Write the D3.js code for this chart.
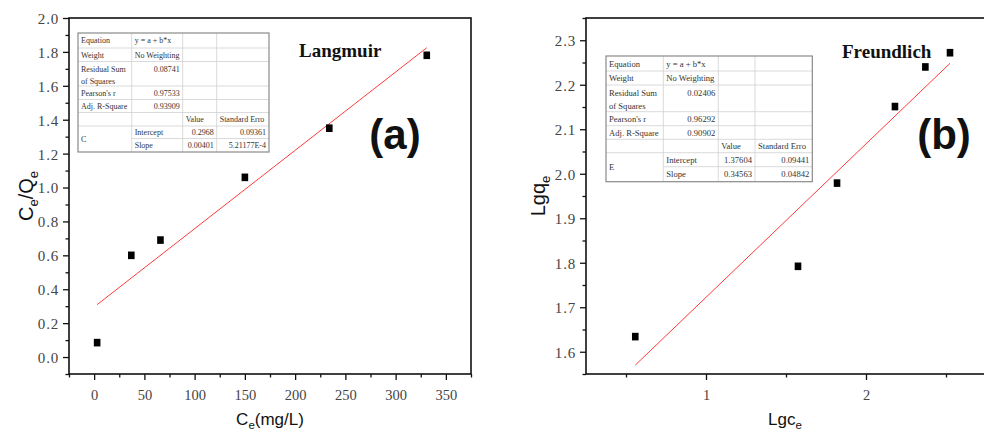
<!DOCTYPE html>
<html>
<head>
<meta charset="utf-8">
<script src="https://cdn.jsdelivr.net/npm/d3@7/dist/d3.min.js"></script>
<style>
  html, body { margin: 0; padding: 0; background: #fff; }
  svg { display: block; }
</style>
</head>
<body>
<svg id="chart" width="984" height="433"></svg>
<script>
// ---- Langmuir isotherm data: Ce (mg/L) vs Ce/Qe ----
const langmuirCe = [3, 37, 66, 150, 234, 331];
const langmuirCeQe = [0.085, 0.60, 0.69, 1.06, 1.35, 1.78];

// ---- Freundlich isotherm data: lg Ce vs lg qe ----
const freundlichLgCe = [0.558, 1.575, 1.819, 2.181, 2.371, 2.525];
const freundlichLgQe = [1.634, 1.792, 1.979, 2.151, 2.240, 2.272];

// ---- tick values ----
const xTicksA = [0, 50, 100, 150, 200, 250, 300, 350];
const xMinorA = [-25, 25, 75, 125, 175, 225, 275, 325, 375];
const yTicksA = [0.0, 0.2, 0.4, 0.6, 0.8, 1.0, 1.2, 1.4, 1.6, 1.8, 2.0];
const yMinorA = [-0.1, 0.1, 0.3, 0.5, 0.7, 0.9, 1.1, 1.3, 1.5, 1.7, 1.9];
const xTicksB = [1, 2];
const xMinorB = [0.5, 1.5, 2.5];
const yTicksB = [1.6, 1.7, 1.8, 1.9, 2.0, 2.1, 2.2, 2.3];
const yMinorB = [1.55, 1.65, 1.75, 1.85, 1.95, 2.05, 2.15, 2.25, 2.35];

// ---- fit result tables ----
const tableA = [
  ["Equation", "y = a + b*x", "", ""],
  ["Weight", "No Weighting", "", ""],
  ["Residual Sum\nof Squares", "0.08741", "", ""],
  ["Pearson's r", "0.97533", "", ""],
  ["Adj. R-Square", "0.93909", "", ""],
  ["", "", "Value", "Standard Erro"],
  ["C", "Intercept", "0.2968", "0.09361"],
  ["", "Slope", "0.00401", "5.21177E-4"]
];
const tableB = [
  ["Equation", "y = a + b*x", "", ""],
  ["Weight", "No Weighting", "", ""],
  ["Residual Sum\nof Squares", "0.02406", "", ""],
  ["Pearson's r", "0.96292", "", ""],
  ["Adj. R-Square", "0.90902", "", ""],
  ["", "", "Value", "Standard Erro"],
  ["E", "Intercept", "1.37604", "0.09441"],
  ["", "Slope", "0.34563", "0.04842"]
];

const svg = d3.select("#chart");

// ordinary least squares line through the points
function linearFit(xs, ys) {
  const n = xs.length;
  const mx = d3.mean(xs), my = d3.mean(ys);
  let sxy = 0, sxx = 0;
  for (let i = 0; i < n; i++) {
    sxy += (xs[i] - mx) * (ys[i] - my);
    sxx += (xs[i] - mx) * (xs[i] - mx);
  }
  const b = sxy / sxx;
  return { a: my - b * mx, b: b };
}

function drawPanel(cfg) {
  const g = svg.append("g");
  const x = d3.scaleLinear().domain(cfg.xDomain).range([cfg.left, cfg.right]);
  const y = d3.scaleLinear().domain(cfg.yDomain).range([cfg.bottom, cfg.top]);

  // minor ticks
  g.append("g")
    .attr("transform", `translate(0,${cfg.bottom})`)
    .call(d3.axisBottom(x).tickValues(cfg.xMinor).tickSize(3.5).tickFormat(""))
    .call(s => s.select(".domain").remove())
    .selectAll("line").attr("stroke", "#111").attr("stroke-width", 1.3);
  g.append("g")
    .attr("transform", `translate(${cfg.left},0)`)
    .call(d3.axisLeft(y).tickValues(cfg.yMinor).tickSize(3.5).tickFormat(""))
    .call(s => s.select(".domain").remove())
    .selectAll("line").attr("stroke", "#111").attr("stroke-width", 1.3);

  // major ticks with labels
  const xa = g.append("g")
    .attr("transform", `translate(0,${cfg.bottom})`)
    .call(d3.axisBottom(x).tickValues(cfg.xTicks).tickSize(6).tickPadding(0).tickFormat(cfg.xFormat));
  xa.select(".domain").remove();
  xa.selectAll("line").attr("stroke", "#111").attr("stroke-width", 1.3);
  xa.selectAll("text")
    .attr("y", null).attr("dy", null)
    .attr("transform", null)
    .attr("y", 26 - 0)
    .attr("font-family", "'Liberation Serif', 'DejaVu Serif', serif")
    .attr("font-size", 14.5)
    .attr("fill", "#444");

  const ya = g.append("g")
    .attr("transform", `translate(${cfg.left},0)`)
    .call(d3.axisLeft(y).tickValues(cfg.yTicks).tickSize(6).tickPadding(4).tickFormat(d3.format(".1f")));
  ya.select(".domain").remove();
  ya.selectAll("line").attr("stroke", "#111").attr("stroke-width", 1.3);
  ya.selectAll("text")
    .attr("dy", "0.36em")
    .attr("font-family", "'Liberation Serif', 'DejaVu Serif', serif")
    .attr("font-size", 15)
    .attr("letter-spacing", 0.8)
    .attr("fill", "#444");

  // frame
  g.append("rect")
    .attr("x", cfg.left).attr("y", cfg.top)
    .attr("width", cfg.right - cfg.left).attr("height", cfg.bottom - cfg.top)
    .attr("fill", "none").attr("stroke", "#111").attr("stroke-width", 1.6);

  // fitted line
  const fit = linearFit(cfg.xs, cfg.ys);
  const x0 = d3.min(cfg.xs), x1 = d3.max(cfg.xs);
  g.append("line")
    .attr("x1", x(x0)).attr("y1", y(fit.a + fit.b * x0))
    .attr("x2", x(x1)).attr("y2", y(fit.a + fit.b * x1))
    .attr("stroke", "#ff3b3b").attr("stroke-width", 1);

  // points
  g.selectAll("rect.pt")
    .data(cfg.xs.map((v, i) => [v, cfg.ys[i]]))
    .join("rect")
    .attr("class", "pt")
    .attr("x", d => x(d[0]) - 3.3).attr("y", d => y(d[1]) - 3.8)
    .attr("width", 6.6).attr("height", 7.6)
    .attr("fill", "#000");

  // model name
  g.append("text")
    .attr("x", cfg.nameX).attr("y", cfg.nameY)
    .attr("font-family", "'Liberation Serif', 'Times New Roman', serif")
    .attr("font-weight", "bold").attr("font-size", 19)
    .attr("fill", "#111")
    .text(cfg.name);

  // panel letter
  g.append("text")
    .attr("x", cfg.tagX).attr("y", 149)
    .attr("text-anchor", "middle")
    .attr("font-family", "'Liberation Sans', Arial, sans-serif")
    .attr("font-weight", "bold").attr("font-size", 42)
    .attr("fill", "#111")
    .text(cfg.tag);

  // axis titles with subscripts
  const xt = g.append("text")
    .attr("x", (cfg.left + Math.min(cfg.right, 984)) / 2 + cfg.xTitleShift).attr("y", 425)
    .attr("text-anchor", "middle")
    .attr("font-family", "'Liberation Sans', Arial, sans-serif")
    .attr("font-size", 17).attr("fill", "#111");
  cfg.xTitle.forEach(p => {
    const t = xt.append("tspan").text(p.t);
    if (p.sub) t.attr("font-size", 11.5).attr("dy", 4);
    else if (p.after) t.attr("dy", -4);
  });

  const yt = g.append("text")
    .attr("transform", `translate(${cfg.yTitleX},${(cfg.top + cfg.bottom) / 2}) rotate(-90)`)
    .attr("text-anchor", "middle")
    .attr("font-family", "'Liberation Sans', Arial, sans-serif")
    .attr("font-size", 20).attr("fill", "#111");
  cfg.yTitle.forEach(p => {
    const t = yt.append("tspan").text(p.t);
    if (p.sub) t.attr("font-size", 13).attr("dy", 5);
    else if (p.after) t.attr("dy", -5);
  });
}

function drawTable(rows, t) {
  const g = svg.append("g");
  const colX = [t.x];
  t.colW.forEach((w, i) => colX.push(colX[i] + w));
  const rowY = [t.y];
  t.rowH.forEach((h, i) => rowY.push(rowY[i] + h));
  const W = colX[colX.length - 1] - t.x, H = rowY[rowY.length - 1] - t.y;

  g.append("rect").attr("x", t.x).attr("y", t.y).attr("width", W).attr("height", H)
    .attr("fill", "#fff");

  // inner horizontal rules (row 7/8 boundary skips the merged first column)
  for (let r = 1; r < rowY.length - 1; r++) {
    const xs = (r === rowY.length - 2) ? colX[1] : colX[0];
    g.append("line").attr("x1", xs).attr("x2", colX[colX.length - 1])
      .attr("y1", rowY[r]).attr("y2", rowY[r])
      .attr("stroke", "#d0d0d0").attr("stroke-width", 0.8);
  }
  for (let c = 1; c < colX.length - 1; c++) {
    g.append("line").attr("x1", colX[c]).attr("x2", colX[c])
      .attr("y1", t.y).attr("y2", rowY[rowY.length - 1])
      .attr("stroke", "#d0d0d0").attr("stroke-width", 0.8);
  }
  g.append("rect").attr("x", t.x).attr("y", t.y).attr("width", W).attr("height", H)
    .attr("fill", "none").attr("stroke", "#8a8a8a").attr("stroke-width", 1.2);

  const isNum = s => /^-?[0-9.]+(E-?[0-9]+)?$/.test(s);
  rows.forEach((row, r) => {
    row.forEach((cell, c) => {
      if (!cell) return;
      const lines = cell.split("\n");
      const num = isNum(cell);
      let cy;
      if (r === 6 && c === 0) cy = (rowY[6] + rowY[8]) / 2;
      else if (lines.length > 1 || rows[r][0].includes("\n")) cy = rowY[r] + 7.5;
      else cy = (rowY[r] + rowY[r + 1]) / 2;
      lines.forEach((ln, k) => {
        g.append("text")
          .attr("x", num ? colX[c + 1] - 3 : colX[c] + 3)
          .attr("y", cy + k * t.lineGap)
          .attr("dy", "0.35em")
          .attr("text-anchor", num ? "end" : "start")
          .attr("font-family", "'Liberation Serif', 'DejaVu Serif', serif")
          .attr("font-size", t.fs)
          .attr("fill", "#333")
          .text(ln);
      });
    });
  });
}

drawPanel({
  left: 69, right: 471, top: 18, bottom: 374,
  xDomain: [-25, 375], yDomain: [-0.1, 2.0],
  xTicks: xTicksA, xMinor: xMinorA, yTicks: yTicksA, yMinor: yMinorA,
  xFormat: d3.format("d"),
  xs: langmuirCe, ys: langmuirCeQe,
  name: "Langmuir", nameX: 299, nameY: 56.5,
  tag: "(a)", tagX: 395,
  xTitle: [{ t: "C" }, { t: "e", sub: true }, { t: "(mg/L)", after: true }],
  xTitleShift: 0,
  yTitle: [{ t: "C" }, { t: "e", sub: true }, { t: "/Q", after: true }, { t: "e", sub: true }],
  yTitleX: 33
});

drawPanel({
  left: 586, right: 986, top: 18, bottom: 374,
  xDomain: [0.25, 2.75], yDomain: [1.55, 2.35],
  xTicks: xTicksB, xMinor: xMinorB, yTicks: yTicksB, yMinor: yMinorB,
  xFormat: d3.format("d"),
  xs: freundlichLgCe, ys: freundlichLgQe,
  name: "Freundlich", nameX: 842, nameY: 58,
  tag: "(b)", tagX: 944,
  xTitle: [{ t: "Lgc" }, { t: "e", sub: true }],
  xTitleShift: 0,
  yTitle: [{ t: "Lgq" }, { t: "e", sub: true }],
  yTitleX: 545
});

drawTable(tableA, {
  x: 78, y: 33, fs: 8, lineGap: 12.5,
  colW: [53.7, 51, 34, 52.3],
  rowH: [15, 13.5, 24.5, 13.5, 13, 13.5, 12.5, 13.5]
});
drawTable(tableB, {
  x: 606, y: 56, fs: 8.6, lineGap: 13,
  colW: [57.3, 55, 36.7, 57.3],
  rowH: [15, 14, 26.7, 14, 13.6, 13.4, 14, 15]
});
</script>
</body>
</html>
